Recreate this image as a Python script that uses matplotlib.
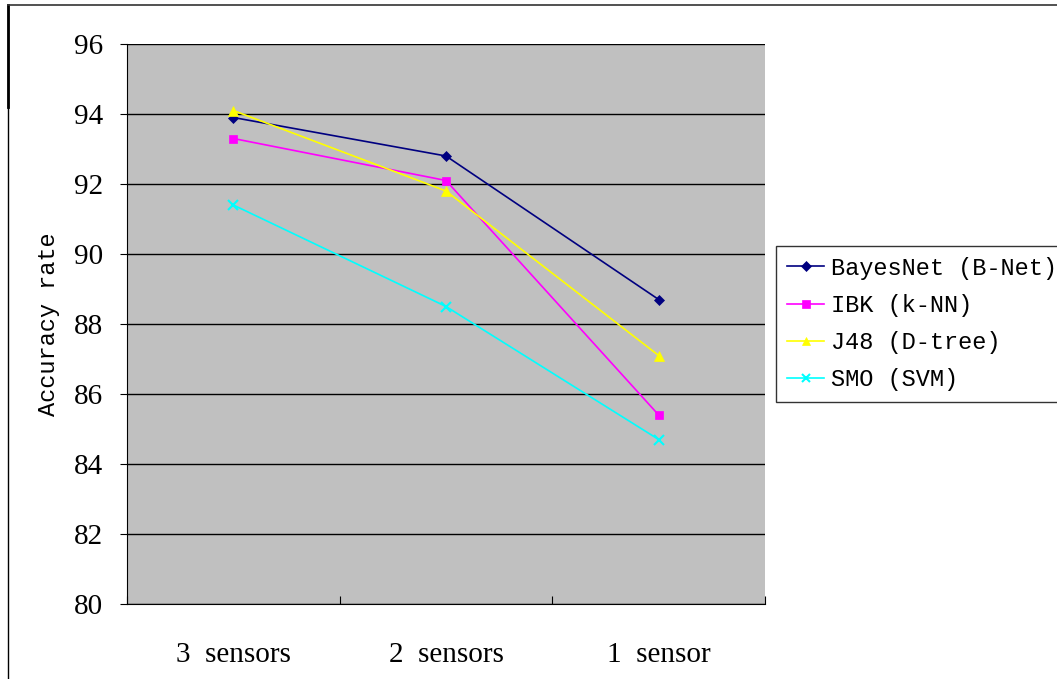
import numpy as np
import matplotlib.pyplot as plt
from matplotlib.lines import Line2D

# ----------------------------
# Data
# ----------------------------
categories = ["3  sensors", "2  sensors", "1  sensor"]
bayesnet = [93.9, 92.8, 88.7]
ibk = [93.3, 92.1, 85.4]
j48 = [94.1, 91.8, 87.1]
smo = [91.4, 88.5, 84.7]

series = [
    ("BayesNet (B-Net)", bayesnet, "#000080", "D", 5),
    ("IBK (k-NN)", ibk, "#FF00FF", "s", 6),
    ("J48 (D-tree)", j48, "#FFFF00", "^", 7),
    ("SMO (SVM)", smo, "#00FFFF", "x", 7),
]

fig = plt.figure(figsize=(10.57, 6.79), dpi=100)
ax = fig.add_axes([127 / 1057, 1 - 604 / 679, (765 - 127) / 1057, (604 - 44) / 679])
ax.set_facecolor("#C0C0C0")

x = np.arange(len(categories)) + 0.5
for name, vals, col, mk, ms in series:
    ax.plot(x, vals, color=col, marker=mk, markersize=ms, lw=1.2,
            markeredgewidth=1.5 if mk == "x" else 0.5, markeredgecolor=col, label=name)

ax.set_xlim(0, 3)
ax.set_ylim(80, 96)
ax.set_yticks(np.arange(80, 97, 2))
ax.yaxis.grid(True, color="black", lw=1)
ax.set_axisbelow(True)

ax.set_xticks([0, 1, 2, 3])
ax.set_xticklabels([])
ax.set_xticks(x, minor=True)
ax.set_xticklabels(categories, minor=True, fontfamily="Liberation Serif", fontsize=21)
ax.tick_params(axis="x", which="major", direction="in", length=6, color="black")
ax.tick_params(axis="x", which="minor", length=0, pad=27)
ax.tick_params(axis="y", direction="out", length=5, pad=12, labelsize=21)
for lab in ax.get_yticklabels():
    lab.set_fontfamily("Liberation Serif")

for s in ["top", "right"]:
    ax.spines[s].set_visible(False)
ax.spines["left"].set_color("black")
ax.spines["bottom"].set_color("black")

ax.set_ylabel("Accuracy rate", fontfamily="Liberation Mono", fontsize=17, labelpad=10)

handles = [Line2D([0], [0], color=c, marker=m, markersize=min(ms, 6),
                  markeredgewidth=1.5 if m == "x" else 0.5, markeredgecolor=c, lw=1.2)
           for _, _, c, m, ms in series]
leg = fig.legend(handles, [s[0] for s in series], loc="center left",
                 bbox_to_anchor=(776 / 1057, 1 - 324 / 679),
                 prop={"family": "Liberation Mono", "size": 17},
                 frameon=True, fancybox=False, edgecolor="black",
                 handlelength=1.6, handletextpad=0.3, borderpad=0.45,
                 labelspacing=0.6, borderaxespad=0)
leg.get_frame().set_linewidth(1)

# chart area border
fig.add_artist(Line2D([8 / 1057, 8 / 1057], [0, 1 - 5 / 679], color="black", lw=1,
                      transform=fig.transFigure))
fig.add_artist(Line2D([8 / 1057, 8 / 1057], [1 - 107 / 679, 1 - 5 / 679], color="black", lw=2,
                      transform=fig.transFigure))
fig.add_artist(Line2D([8 / 1057, 1], [1 - 5 / 679, 1 - 5 / 679], color="#333333", lw=1.2,
                      transform=fig.transFigure))

fig.savefig("out.png", dpi=100)
